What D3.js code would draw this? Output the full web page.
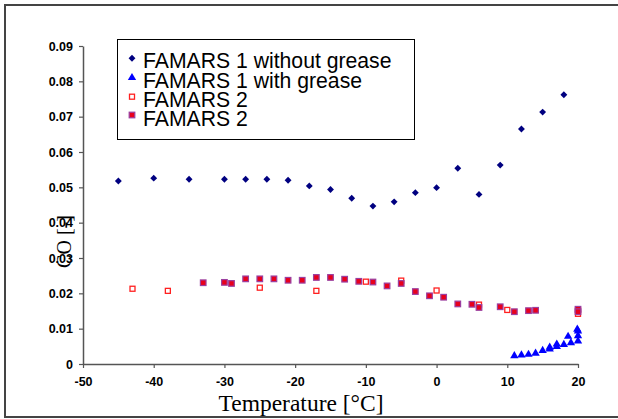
<!DOCTYPE html>
<html>
<head>
<meta charset="utf-8">
<script src="https://cdn.jsdelivr.net/npm/d3@7"></script>
<style>
  body { margin: 0; background: #fff; }
  .tick text { font-family: "Liberation Sans", Arial, sans-serif; font-weight: bold; font-size: 12.5px; fill: #000; }
</style>
</head>
<body>
<div id="chart"></div>
<script>
// Data
const xTicks = [-50, -40, -30, -20, -10, 0, 10, 20];
const yTicks = [0, 0.01, 0.02, 0.03, 0.04, 0.05, 0.06, 0.07, 0.08, 0.09];

const tempNoGrease = [-45, -40, -35, -30, -27, -24, -21, -18, -15, -12, -9, -6, -3, 0, 3, 6, 9, 12, 15, 18];
const coNoGrease = [0.0518, 0.0526, 0.0523, 0.0523, 0.0523, 0.0523, 0.0520, 0.0504, 0.0494, 0.0469, 0.0447, 0.0459, 0.0485, 0.0499, 0.0554, 0.0480, 0.0563, 0.0665, 0.0713, 0.0762];

const tempGrease = [11, 12, 13, 14, 15, 16, 16, 17, 17, 18, 18.6, 19, 19.9, 20, 20, 20];
const coGrease = [0.0023, 0.0025, 0.0027, 0.0030, 0.0038, 0.0042, 0.0047, 0.0049, 0.0056, 0.0055, 0.0078, 0.0060, 0.0098, 0.0093, 0.0080, 0.0065];

const tempF2open = [-43, -38, -25, -17, -10, -5, 0, 6, 10, 20, 20];
const coF2open = [0.0213, 0.0207, 0.0216, 0.0207, 0.0233, 0.0236, 0.0208, 0.0168, 0.0153, 0.0142, 0.0152];

const tempF2fill = [-33, -30, -29, -27, -25, -23, -21, -19, -17, -15, -13, -11, -9, -7, -5, -3, -1, 1, 3, 5, 6, 9, 11, 13, 14, 20, 20];
const coF2fill = [0.0230, 0.0231, 0.0228, 0.0241, 0.0241, 0.0241, 0.0237, 0.0237, 0.0245, 0.0245, 0.0240, 0.0234, 0.0232, 0.0221, 0.0228, 0.0205, 0.0193, 0.0189, 0.0170, 0.0169, 0.0160, 0.0162, 0.0148, 0.0151, 0.0152, 0.0155, 0.0148];

const seriesNames = ["FAMARS 1 without grease", "FAMARS 1 with grease", "FAMARS 2", "FAMARS 2"];

// Dimensions
const W = 618, H = 419;
const plot = { left: 83, right: 578, top: 46, bottom: 364 };

const svg = d3.select("#chart").append("svg")
    .attr("width", W)
    .attr("height", H);

// outer frame
svg.append("rect")
    .attr("x", 5).attr("y", 5)
    .attr("width", 620).attr("height", 412)
    .attr("fill", "#fff")
    .attr("stroke", "#444")
    .attr("stroke-width", 2);

// Scales
const x = d3.scaleLinear().domain([-50, 20]).range([plot.left, plot.right]);
const y = d3.scaleLinear().domain([0, 0.09]).range([plot.bottom, plot.top]);

// y label (drawn first, tick labels sit on top of it)
svg.append("text")
    .attr("transform", `translate(71,241.5) rotate(-90)`)
    .attr("text-anchor", "middle")
    .style("font-family", "'Liberation Serif', 'Times New Roman', serif")
    .style("font-size", "20px")
    .text("CO [-]");

// Axes
const fmt = d => d === 0 ? "0" : d.toFixed(2);
const yAxis = svg.append("g")
    .attr("transform", `translate(${plot.left},0)`)
    .call(d3.axisLeft(y).tickValues(yTicks).tickFormat(fmt).tickSize(4).tickSizeOuter(0).tickPadding(6));

const xAxis = svg.append("g")
    .attr("transform", `translate(0,${plot.bottom})`)
    .call(d3.axisBottom(x).tickValues(xTicks).tickFormat(d => String(d)).tickSize(4).tickSizeOuter(0).tickPadding(9));

[yAxis, xAxis].forEach(a => {
    a.select(".domain").attr("stroke", "#555").attr("stroke-width", 1.5);
    a.selectAll(".tick line").attr("stroke", "#555").attr("stroke-width", 1.2);
});

svg.append("text")
    .attr("x", 301).attr("y", 411)
    .attr("text-anchor", "middle")
    .style("font-family", "'Liberation Serif', 'Times New Roman', serif")
    .style("font-size", "23.5px")
    .text("Temperature [°C]");

// markers
const diamond = d3.symbol().type(d3.symbolDiamond2).size(30);
const triangle = d3.symbol().type(d3.symbolTriangle).size(30);

function pairs(xs, ys) { return xs.map((t, i) => ({ t, v: ys[i] })); }

svg.selectAll(".nogrease")
    .data(pairs(tempNoGrease, coNoGrease))
    .enter().append("path")
    .attr("class", "nogrease")
    .attr("transform", d => `translate(${x(d.t)},${y(d.v)})`)
    .attr("d", diamond)
    .attr("fill", "#000080");

svg.selectAll(".grease")
    .data(pairs(tempGrease, coGrease))
    .enter().append("path")
    .attr("class", "grease")
    .attr("transform", d => `translate(${x(d.t)},${y(d.v)})`)
    .attr("d", triangle)
    .attr("fill", "#0000ff");

svg.selectAll(".f2open")
    .data(pairs(tempF2open, coF2open))
    .enter().append("rect")
    .attr("class", "f2open")
    .attr("x", d => x(d.t) - 2.5).attr("y", d => y(d.v) - 2.5)
    .attr("width", 5).attr("height", 5)
    .attr("fill", "#fff")
    .attr("stroke", "#ff2020")
    .attr("stroke-width", 1.3);

svg.selectAll(".f2fill")
    .data(pairs(tempF2fill, coF2fill))
    .enter().append("rect")
    .attr("class", "f2fill")
    .attr("x", d => x(d.t) - 2.8).attr("y", d => y(d.v) - 2.8)
    .attr("width", 5.6).attr("height", 5.6)
    .attr("fill", "#e8001c")
    .attr("stroke", "#9a3fa0")
    .attr("stroke-width", 1.2);

// Legend
const legend = svg.append("g");
legend.append("rect")
    .attr("x", 117.5).attr("y", 39.5)
    .attr("width", 297).attr("height", 100)
    .attr("fill", "#fff")
    .attr("stroke", "#000")
    .attr("stroke-width", 1);

const rowY = [68.3, 87.5, 106.7, 126];
const markY = [58.3, 77.7, 96.7, 115];

legend.selectAll(".lt")
    .data(seriesNames)
    .enter().append("text")
    .attr("x", 143)
    .attr("y", (d, i) => rowY[i])
    .style("font-family", "'Liberation Sans', Arial, sans-serif")
    .style("font-size", "21.2px")
    .text(d => d);

legend.append("path").attr("transform", `translate(132,${markY[0]})`).attr("d", diamond).attr("fill", "#000080");
legend.append("path").attr("transform", `translate(132,${markY[1]})`).attr("d", triangle).attr("fill", "#0000ff");
legend.append("rect").attr("x", 129.5).attr("y", markY[2] - 2.5).attr("width", 5).attr("height", 5)
    .attr("fill", "#fff").attr("stroke", "#ff2020").attr("stroke-width", 1.3);
legend.append("rect").attr("x", 129.2).attr("y", markY[3] - 2.8).attr("width", 5.6).attr("height", 5.6)
    .attr("fill", "#e8001c").attr("stroke", "#9a3fa0").attr("stroke-width", 1.2);
</script>
</body>
</html>
